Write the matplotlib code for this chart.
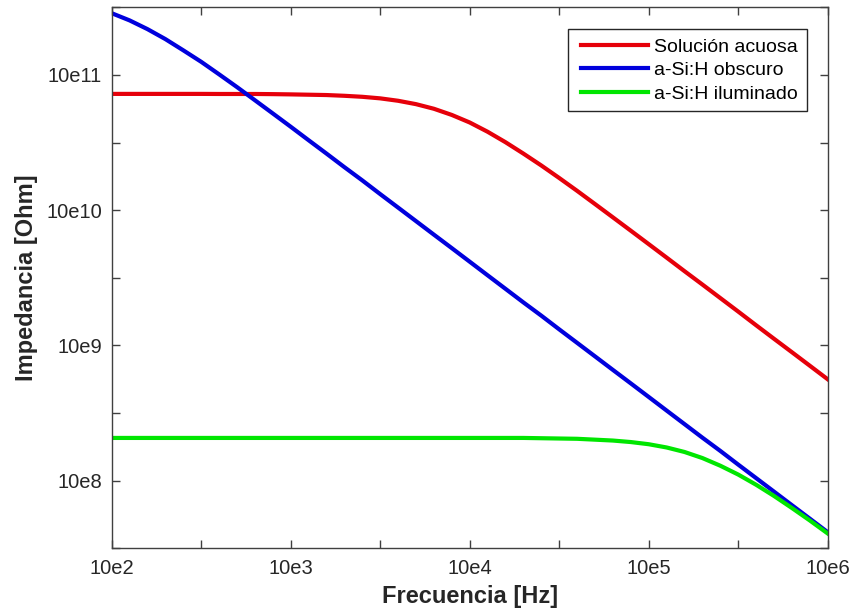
import matplotlib
matplotlib.use("Agg")
import matplotlib.pyplot as plt
from matplotlib.ticker import NullLocator
from matplotlib.legend_handler import HandlerLine2D
from matplotlib.lines import Line2D

plt.rcParams['font.family'] = ['Liberation Sans', 'DejaVu Sans']

# Frequency samples [Hz] (tenth-decade steps)
freq = [1.000e2, 1.259e2, 1.585e2, 1.995e2, 2.512e2, 3.162e2, 3.981e2, 5.012e2, 6.310e2, 7.943e2,
        1.000e3, 1.259e3, 1.585e3, 1.995e3, 2.512e3, 3.162e3, 3.981e3, 5.012e3, 6.310e3, 7.943e3,
        1.000e4, 1.259e4, 1.585e4, 1.995e4, 2.512e4, 3.162e4, 3.981e4, 5.012e4, 6.310e4, 7.943e4,
        1.000e5, 1.259e5, 1.585e5, 1.995e5, 2.512e5, 3.162e5, 3.981e5, 5.012e5, 6.310e5, 7.943e5,
        1.000e6]

# Impedance values [Ohm]
z_solucion = [7.24e10, 7.24e10, 7.24e10, 7.24e10, 7.24e10, 7.24e10, 7.23e10, 7.23e10, 7.23e10, 7.21e10,
              7.18e10, 7.14e10, 7.10e10, 7.01e10, 6.89e10, 6.71e10, 6.44e10, 6.08e10, 5.62e10, 5.06e10,
              4.45e10, 3.80e10, 3.18e10, 2.62e10, 2.14e10, 1.73e10, 1.39e10, 1.11e10, 8.85e9, 7.05e9,
              5.61e9, 4.46e9, 3.54e9, 2.82e9, 2.24e9, 1.78e9, 1.41e9, 1.12e9, 8.91e8, 7.08e8,
              5.62e8]
z_oscuro = [2.86e11, 2.53e11, 2.18e11, 1.84e11, 1.52e11, 1.25e11, 1.01e11, 8.13e10, 6.50e10, 5.19e10,
            4.14e10, 3.29e10, 2.62e10, 2.08e10, 1.66e10, 1.315e10, 1.045e10, 8.30e9, 6.59e9, 5.24e9,
            4.16e9, 3.30e9, 2.62e9, 2.08e9, 1.66e9, 1.315e9, 1.045e9, 8.30e8, 6.59e8, 5.24e8,
            4.16e8, 3.30e8, 2.62e8, 2.08e8, 1.66e8, 1.315e8, 1.045e8, 8.30e7, 6.59e7, 5.24e7,
            4.16e7]
z_iluminado = [2.07e8, 2.07e8, 2.07e8, 2.07e8, 2.07e8, 2.07e8, 2.07e8, 2.07e8, 2.07e8, 2.07e8,
               2.07e8, 2.07e8, 2.07e8, 2.07e8, 2.07e8, 2.07e8, 2.07e8, 2.07e8, 2.07e8, 2.07e8,
               2.07e8, 2.07e8, 2.07e8, 2.07e8, 2.06e8, 2.05e8, 2.04e8, 2.01e8, 1.98e8, 1.93e8,
               1.86e8, 1.76e8, 1.63e8, 1.47e8, 1.29e8, 1.11e8, 9.33e7, 7.71e7, 6.28e7, 5.08e7,
               4.07e7]

series_labels = ['Solución acuosa', 'a-Si:H obscuro', 'a-Si:H iluminado']
x_ticks = [1e2, 10**2.5, 1e3, 10**3.5, 1e4, 10**4.5, 1e5, 10**5.5, 1e6]
x_ticklabels = ['10e2', '', '10e3', '', '10e4', '', '10e5', '', '10e6']
y_ticks = [10**7.5, 1e8, 10**8.5, 1e9, 10**9.5, 1e10, 10**10.5, 1e11, 10**11.5]
y_ticklabels = ['', '10e8', '', '10e9', '', '10e10', '', '10e11', '']

W, H = 855, 613
fig = plt.figure(figsize=(W / 100, H / 100), dpi=100)
ax = fig.add_axes([111.7 / W, 1 - 548.3 / H, 716 / W, 541 / H])

ax.plot(freq, z_solucion, color='#e6000a', lw=3, label=series_labels[0])
ax.plot(freq, z_oscuro, color='#0000dd', lw=3, label=series_labels[1])
ax.plot(freq, z_iluminado, color='#00e600', lw=3, label=series_labels[2])

ax.set_xscale('log')
ax.set_yscale('log')
ax.set_xlim(1e2, 1e6)
ax.set_ylim(10**7.5, 10**11.5)

ax.set_xticks(x_ticks)
ax.set_xticklabels(x_ticklabels)
ax.set_yticks(y_ticks)
ax.set_yticklabels(y_ticklabels)
ax.xaxis.set_minor_locator(NullLocator())
ax.yaxis.set_minor_locator(NullLocator())

edge = '#404040'
for s in ax.spines.values():
    s.set_color(edge)
    s.set_linewidth(1.0)
ax.tick_params(axis='both', direction='in', length=6, width=1, color=edge,
               top=True, right=True, labelsize=14.5, labelcolor='#262626')
ax.tick_params(axis='x', pad=8)
ax.tick_params(axis='y', pad=7)

ax.set_xlabel('Frecuencia [Hz]', fontsize=17, fontweight='bold',
              color='#262626', labelpad=5)
ax.set_ylabel('Impedancia [Ohm]', fontsize=17, fontweight='bold',
              color='#262626', labelpad=6)

leg = ax.legend(loc='upper right', bbox_to_anchor=(0.9707, 0.9593),
                borderaxespad=0, fontsize=14, fancybox=False,
                edgecolor='#262626', framealpha=1, handlelength=3.67,
                handletextpad=0.3, labelspacing=0.3, borderpad=0.45,
                handler_map={Line2D: HandlerLine2D(xpad=0.22)})
leg.get_frame().set_linewidth(1.0)

fig.savefig('out.png', dpi=100, facecolor='white')
